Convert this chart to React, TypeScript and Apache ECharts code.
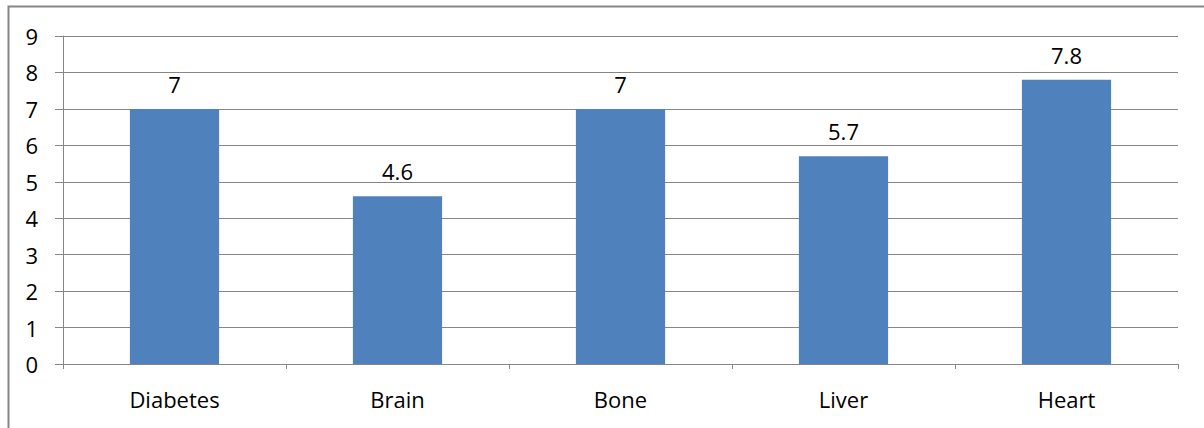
import React, { useEffect, useRef } from "react";
import * as echarts from "echarts";

const categories = ["Diabetes", "Brain", "Bone", "Liver", "Heart"];
const values = [7, 4.6, 7, 5.7, 7.8];
const yTicks = { min: 0, max: 9, interval: 1 };

export default function App() {
  const ref = useRef<HTMLDivElement>(null);
  useEffect(() => {
    const chart = echarts.init(ref.current!, null, { renderer: "svg" });
    const gray = "#868686";
    const font = "Open Sans";
    chart.setOption({
      animation: false,
      backgroundColor: "#ffffff",
      graphic: [
        {
          type: "rect",
          shape: { x: 8.5, y: 6.5, width: 1300, height: 500 },
          style: { fill: "none", stroke: gray, lineWidth: 2 },
          silent: true,
        },
      ],
      grid: { left: 63, right: 26, top: 36, bottom: 64 },
      xAxis: {
        type: "category",
        data: categories,
        axisLine: { show: true, lineStyle: { color: gray, width: 1 } },
        axisTick: { show: true, length: 5, lineStyle: { color: gray } },
        axisLabel: { color: "#000", fontSize: 22, fontFamily: font, margin: 24 },
      },
      yAxis: {
        type: "value",
        min: yTicks.min,
        max: yTicks.max,
        interval: yTicks.interval,
        axisLine: { show: true, lineStyle: { color: gray, width: 1 } },
        axisTick: { show: true, length: 8, lineStyle: { color: gray } },
        splitLine: { show: true, lineStyle: { color: gray, width: 1 } },
        axisLabel: { color: "#000", fontSize: 22, fontFamily: font, margin: 25 },
      },
      series: [
        {
          type: "bar",
          data: values,
          barWidth: "40%",
          itemStyle: { color: "#4F81BD" },
          label: {
            show: true,
            position: "top",
            distance: 14,
            color: "#000",
            fontSize: 22,
            fontFamily: font,
          },
        },
      ],
    });
    return () => chart.dispose();
  }, []);
  return (
    <div
      ref={ref}
      style={{ position: "absolute", left: 0, top: 0, width: 1204, height: 428 }}
    />
  );
}
